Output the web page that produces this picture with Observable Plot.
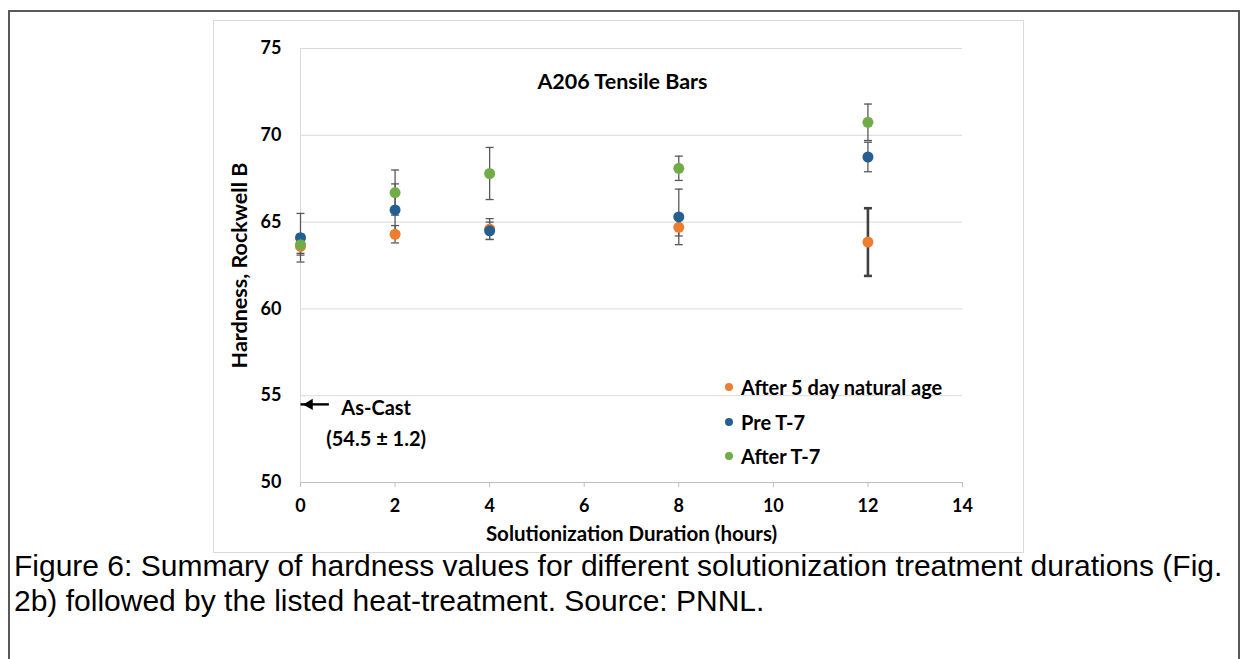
<!DOCTYPE html>
<html><head><meta charset="utf-8">
<script src="https://cdn.jsdelivr.net/npm/d3@7"></script>
<script src="https://cdn.jsdelivr.net/npm/@observablehq/plot@0.6"></script>
<style>
html,body{margin:0;padding:0;background:#fff}
body{width:1248px;height:659px;overflow:hidden;position:relative;font-family:Lato,"Open Sans",sans-serif}
#frame{position:absolute;left:8px;top:10px;width:1232px;height:700px;border:2px solid #595959;box-sizing:border-box}
#chartbox{position:absolute;left:213px;top:20px;width:811px;height:533px;border:1px solid #d9d9d9;box-sizing:border-box}
#chart{position:absolute;left:213px;top:20px;width:811px;height:533px}
#legend{position:absolute;left:722px;top:370px;font-family:Lato,sans-serif;font-weight:700;font-size:20px;color:#000}
#legend .row{display:flex;align-items:center;height:34.5px}
#legend .sw{width:8px;height:8px;border-radius:50%;margin-right:8px;margin-left:3px}
#caption{position:absolute;left:14px;top:548px;font-family:"Liberation Sans",Arial,sans-serif;font-size:30px;line-height:35px;color:#000;white-space:nowrap}
</style></head>
<body>
<div id="frame"></div>
<div id="chartbox"></div>
<div id="chart"></div>
<div id="legend"></div>
<div id="caption">Figure 6: Summary of hardness values for different solutionization treatment durations (Fig.<br>2b) followed by the listed heat-treatment. Source: PNNL.</div>
<script>
// ---- data ----
const durations = [0, 2, 4, 8, 12];
const seriesNames = ["After 5 day natural age", "Pre T-7", "After T-7"];
const seriesColors = ["#ED7D31", "#255E91", "#70AD47"];
const naturalAge    = [63.6, 64.3, 64.6, 64.7, 63.85];
const naturalAgeErr = [0.4, 0.5, 0.6, 0.5, 1.95];
const preT7         = [64.1, 65.7, 64.5, 65.3, 68.75];
const preT7Err      = [1.4, 1.5, 0.5, 1.6, 0.85];
const afterT7       = [63.7, 66.7, 67.8, 68.1, 70.75];
const afterT7Err    = [0.6, 1.3, 1.5, 0.7, 1.05];
const xTicks = [0, 2, 4, 6, 8, 10, 12, 14];
const yTicks = [50, 55, 60, 65, 70, 75];
const chartTitle = "A206 Tensile Bars";
const xLabel = "Solutionization Duration (hours)";
const yLabel = "Hardness, Rockwell B";
const asCast = [{value: 54.5, sd: 1.2, label: "As-Cast\n(54.5 ± 1.2)", arrowFrom: 0.6, textX: 1.6}];

// ---- build table ----
const values = [naturalAge, preT7, afterT7];
const errs = [naturalAgeErr, preT7Err, afterT7Err];
const rows = [];
seriesNames.forEach((s, i) => durations.forEach((d, j) => rows.push({
  series: s, x: d, y: values[i][j], lo: values[i][j] - errs[i][j], hi: values[i][j] + errs[i][j], thick: i === 0 && j === 4
})));

const capSymbol = {draw(ctx, size) { const w = Math.sqrt(size / Math.PI); ctx.moveTo(-w, 0); ctx.lineTo(w, 0); }};
const font = "Lato, 'Open Sans', sans-serif";

const marks = [
  Plot.gridY(yTicks.filter(t => t > 50), {stroke: "#d9d9d9", strokeOpacity: 1}),
  Plot.ruleX([0], {stroke: "#d9d9d9"}),
  Plot.ruleY([50], {stroke: "#bfbfbf", strokeWidth: 1.2}),
  Plot.axisX({ticks: xTicks, tickSize: 5, tickPadding: 12, stroke: "#bfbfbf", label: null, fontWeight: 700, fontSize: 18}),
  Plot.axisY({ticks: yTicks, tickSize: 0, tickPadding: 19, label: null, fontWeight: 700, fontSize: 18}),
];
seriesNames.forEach((s, i) => {
  const data = rows.filter(r => r.series === s);
  const sw = d => d.thick ? 2.6 : 1.3;
  const col = d => d.thick ? "#404040" : "#595959";
  marks.push(
    Plot.ruleX(data, {x: "x", y1: "lo", y2: "hi", stroke: col, strokeWidth: sw}),
    Plot.dot(data, {x: "x", y: "lo", symbol: capSymbol, r: 4, stroke: col, strokeWidth: sw, fill: "none"}),
    Plot.dot(data, {x: "x", y: "hi", symbol: capSymbol, r: 4, stroke: col, strokeWidth: sw, fill: "none"})
  );
});
seriesNames.forEach((s, i) => {
  marks.push(Plot.dot(rows.filter(r => r.series === s), {x: "x", y: "y", r: 5.5, fill: seriesColors[i], stroke: "none"}));
});
marks.push(
  Plot.text([chartTitle], {frameAnchor: "top", dx: -9, dy: 25, fontWeight: 700, fontSize: 21.5, fill: "#000"}),
  Plot.text([xLabel], {frameAnchor: "bottom", dy: 58, fontWeight: 700, fontSize: 20.5, fill: "#000"}),
  Plot.text([yLabel], {frameAnchor: "left", textAnchor: "middle", dx: -60, rotate: -90, fontWeight: 700, fontSize: 21.5, fill: "#000"}),
  Plot.link(asCast, {x1: "arrowFrom", x2: () => 0, y1: "value", y2: "value", stroke: "#000", strokeWidth: 2.4, insetEnd: 8}),
  Plot.dot(asCast, {x: () => 0, y: "value", symbol: "triangle", rotate: -90, r: 4.2, dx: 9, fill: "#000", stroke: "none"}),
  Plot.text(asCast, {x: "textX", y: "value", text: "label", lineAnchor: "top", dy: -11, lineHeight: 1.55, fontWeight: 700, fontSize: 20, fill: "#000"})
);

const plot = Plot.plot({
  width: 811, height: 533,
  marginLeft: 87, marginRight: 62, marginTop: 28, marginBottom: 71,
  x: {domain: [0, 14]},
  y: {domain: [50, 75]},
  style: {fontFamily: font, fontSize: "18px", color: "#000", background: "transparent"},
  marks
});
document.getElementById("chart").appendChild(plot);

// legend
const leg = document.getElementById("legend");
seriesNames.forEach((s, i) => {
  const row = document.createElement("div"); row.className = "row";
  const sw = document.createElement("span"); sw.className = "sw"; sw.style.background = seriesColors[i];
  const t = document.createElement("span"); t.textContent = s;
  row.appendChild(sw); row.appendChild(t); leg.appendChild(row);
});
</script>
</body></html>
